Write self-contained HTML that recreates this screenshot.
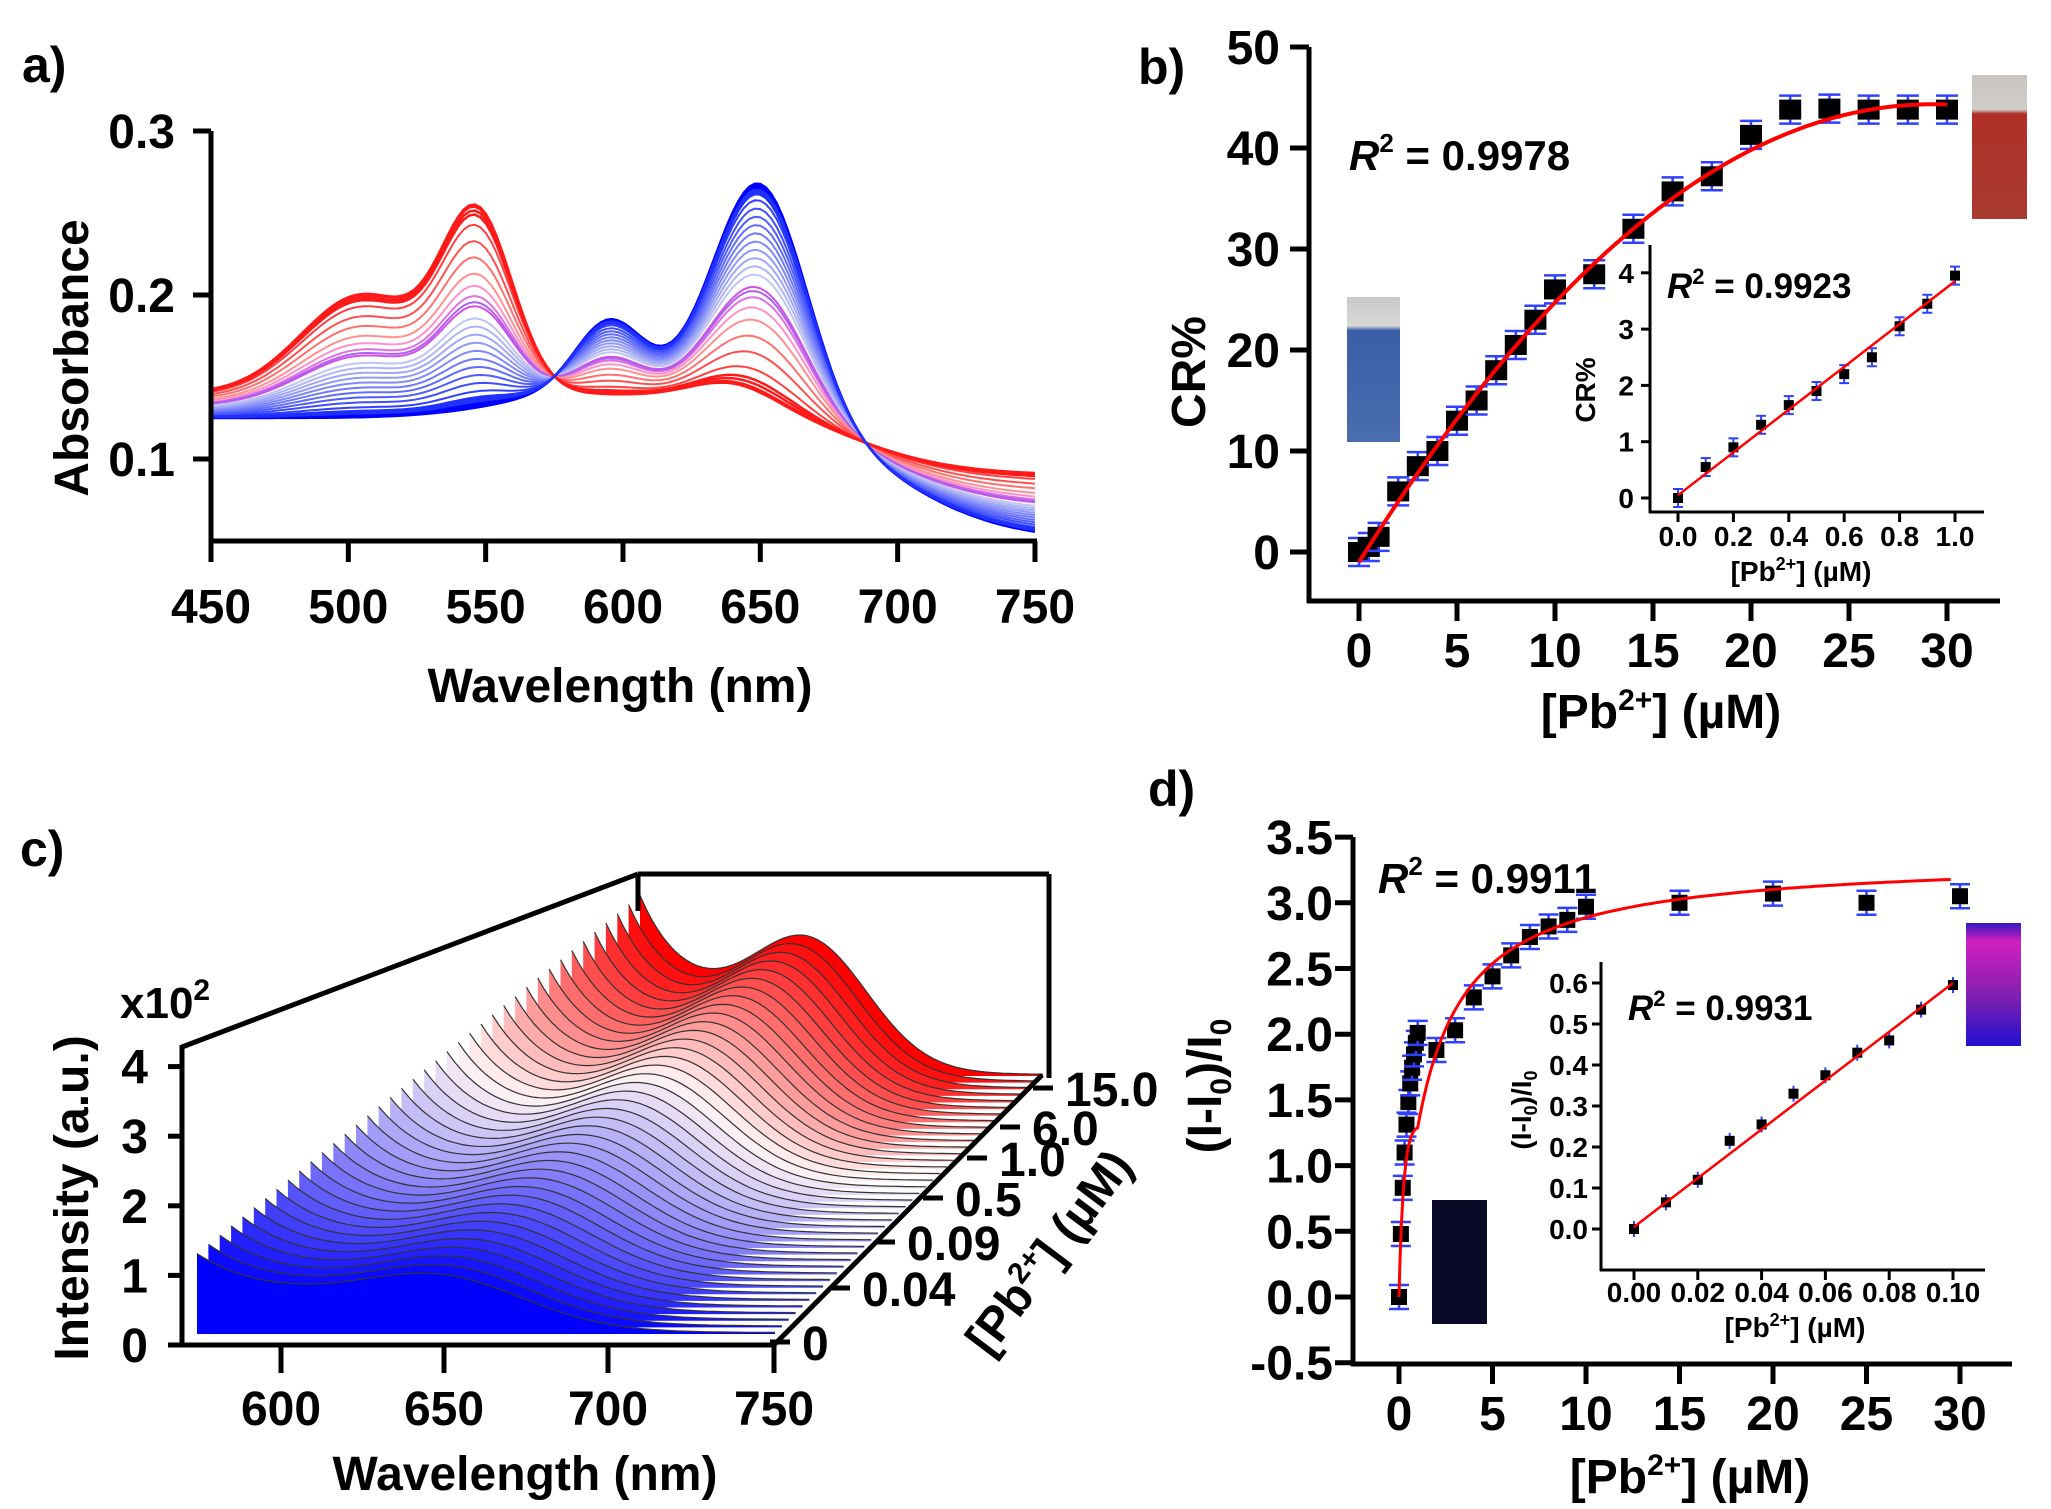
<!DOCTYPE html>
<html><head><meta charset="utf-8"><style>
html,body{margin:0;padding:0;background:#fff;}
svg{display:block;}
text{font-family:"Liberation Sans",Arial,sans-serif;font-weight:bold;fill:#000;}
</style></head><body>
<svg id="s" xmlns="http://www.w3.org/2000/svg" width="2051" height="1509" viewBox="0 0 2051 1509">
<defs>
<clipPath id="ca"><rect x="213" y="60" width="822" height="479"/></clipPath>
<linearGradient id="vb" x1="0" y1="0" x2="0" y2="1"><stop offset="0" stop-color="#c8c8c8"/><stop offset="0.2" stop-color="#d8d8d8"/><stop offset="0.23" stop-color="#3a5fa8"/><stop offset="1" stop-color="#4a6db0"/></linearGradient>
<linearGradient id="vr" x1="0" y1="0" x2="0" y2="1"><stop offset="0" stop-color="#c8c4c0"/><stop offset="0.24" stop-color="#d0ccc8"/><stop offset="0.27" stop-color="#b03028"/><stop offset="1" stop-color="#a83a30"/></linearGradient>
<linearGradient id="vp" x1="0" y1="0" x2="0" y2="1"><stop offset="0" stop-color="#3018c0"/><stop offset="0.15" stop-color="#d020c0"/><stop offset="0.6" stop-color="#8020b0"/><stop offset="1" stop-color="#2010d0"/></linearGradient>
</defs>
<g id="g"></g>
</svg>
<script>
var out=[];
function T(x,y,s,sz,anc,extra){out.push('<text x="'+x+'" y="'+y+'" font-size="'+sz+'" text-anchor="'+(anc||'start')+'" '+(extra||'')+'>'+s+'</text>');}
function L(x1,y1,x2,y2,w,c){out.push('<line x1="'+x1+'" y1="'+y1+'" x2="'+x2+'" y2="'+y2+'" stroke="'+(c||'#000')+'" stroke-width="'+(w||5)+'"/>');}
function P(d,st){out.push('<path d="'+d+'" '+st+'/>');}
function G(x,m,s){return Math.exp(-Math.pow((x-m)/s,2)/2);}
function sig(x){return 1/(1+Math.exp(-x));}
function hex(c){return [parseInt(c.substr(1,2),16),parseInt(c.substr(3,2),16),parseInt(c.substr(5,2),16)];}
function mix(a,b,t){a=hex(a);b=hex(b);return 'rgb('+[0,1,2].map(function(i){return Math.round(a[i]+(b[i]-a[i])*t);}).join(',')+')';}

/* ---------- Panel a ---------- */
T(22,82,'a)',50);
function ax(l){return 211+(l-450)*824/300;}
function ay(a){return 541-(a-0.05)*1640;}
function B(l){return 0.125+0.02*Math.exp(-Math.pow((l-600)/50,2))-0.075*sig((l-700)/20)+0.04*G(l,595,12)+0.141*G(l,650,17);}
function R(l){return 0.14-0.05*sig((l-680)/20)+0.06*G(l,505,22)+0.105*G(l,547,13)+0.012*G(l,640,15);}
function curve(t,col,w){var d='';for(var l=450;l<=750;l+=2){var v=(1-t)*B(l)+t*R(l);d+=(l==450?'M':'L')+ax(l).toFixed(1)+','+ay(v).toFixed(1);}
 out.push('<path d="'+d+'" fill="none" stroke="'+col+'" stroke-width="'+w+'" clip-path="url(#ca)"/>');}
var ts=[0.08,0.12,0.16,0.2,0.24,0.28,0.32,0.36,0.4,0.44];
ts.forEach(function(t,i){curve(t,mix('#3040ff','#c0c4f4',i/(ts.length-1)),2);});
curve(0.5,'#d050e8',2);curve(0.55,'#e070e0',2);curve(0.6,'#ff90c8',2);curve(0.52,'#b060f0',2);
curve(0.66,'#ff9090',2);curve(0.74,'#ff7070',2);curve(0.82,'#ff5050',2);curve(0.9,'#ff4040',2);
[0.95,0.97,0.99,1].forEach(function(t){curve(t,'#ff1a1a',2.5);});
[0,0.01,0.02,0.03,0.04,0.05].forEach(function(t,i){curve(t,i<3?'#0000ff':'#2030ff',2.5);});
L(211,131,211,543);L(209,541,1037,541);
[0.3,0.2,0.1].forEach(function(v){L(193,ay(v),211,ay(v));T(175,ay(v)+17,v.toFixed(1),48,'end');});
for(var k=0;k<=6;k++){var x=211+k*137.33;L(x,541,x,562);T(x,623,450+50*k,48,'middle');}
T(620,702,'Wavelength (nm)',48,'middle');
T(88,358,'Absorbance',48,'middle','transform="rotate(-90 88 358)"');

/* ---------- Panel b ---------- */
T(1138,84,'b)',50);
function bx(v){return 1359+v*19.6;}
function by(v){return 552-v*10.1;}
out.push('<rect x="1347" y="297" width="53" height="145" fill="url(#vb)"/>');
out.push('<rect x="1972" y="75" width="55" height="144" fill="url(#vr)"/>');
var bd=[[0,0],[0.5,0.5],[1,1.5],[2,6],[3,8.5],[4,10],[5,13],[6,15],[7,18],[8,20.5],[9,23],[10,26],[12,27.5],[14,32],[16,35.7],[18,37.2],[20,41.3],[22,43.8],[24,43.9],[26,43.8],[28,43.8],[30,43.8]];
bd.forEach(function(p){var x=bx(p[0]),y=by(p[1]);L(x,y-14,x,y+14,2.5,'#3040ff');L(x-11,y-14,x+11,y-14,2.5,'#3040ff');L(x-11,y+14,x+11,y+14,2.5,'#3040ff');out.push('<rect x="'+(x-11)+'" y="'+(y-10)+'" width="22" height="20" fill="#000"/>');});
var d='';for(var v=0;v<=30;v+=0.25){var y=-1+3.1*v-0.053*v*v;d+=(v==0?'M':'L')+bx(v).toFixed(1)+','+by(y).toFixed(1);}
P(d,'fill="none" stroke="#ff0000" stroke-width="4"');
L(1309,47,1309,603);L(1307,601,2000,601);
for(var k=0;k<=5;k++){var y=by(k*10);L(1290,y,1309,y);T(1280,y+17,k*10,48,'end');}
for(var k=0;k<=6;k++){var x=bx(k*5);L(x,601,x,621);T(x,667,k*5,48,'middle');}
T(1349,170,'<tspan font-style="italic">R</tspan><tspan font-size="26" dy="-18">2</tspan><tspan dy="18"> = 0.9978</tspan>',42);
T(1661,728,'[Pb<tspan font-size="30" dy="-18">2+</tspan><tspan dy="18">] (µM)</tspan>',48,'middle');
T(1205,372,'CR%',48,'middle','transform="rotate(-90 1205 372)"');
/* inset b */
function ix(v){return 1678+v*277;}function iy(v){return 498-v*56.3;}
[[0,0],[0.1,0.55],[0.2,0.9],[0.3,1.3],[0.4,1.65],[0.5,1.9],[0.6,2.2],[0.7,2.5],[0.8,3.05],[0.9,3.45],[1,3.95]].forEach(function(p){var x=ix(p[0]),y=iy(p[1]);L(x,y-9,x,y+9,2,'#3040ff');L(x-5,y-9,x+5,y-9,2,'#3040ff');L(x-5,y+9,x+5,y+9,2,'#3040ff');out.push('<rect x="'+(x-5)+'" y="'+(y-5)+'" width="10" height="10" fill="#000"/>');});
L(ix(0),iy(0.05),ix(1),iy(3.85),2.5,'#ff0000');
L(1650,245,1650,513,3);L(1649,512,1984,512,3);
for(var k=0;k<=4;k++){var y=iy(k);L(1641,y,1650,y,3);T(1634,y+10,k,28,'end');}
for(var k=0;k<=5;k++){var x=ix(k*0.2);L(x,512,x,522,3);T(x,546,(k*0.2).toFixed(1),28,'middle');}
T(1801,581,'[Pb<tspan font-size="18" dy="-11">2+</tspan><tspan dy="11">] (µM)</tspan>',28,'middle');
T(1595,390,'CR%',28,'middle','transform="rotate(-90 1595 390)"');
T(1667,298,'<tspan font-style="italic">R</tspan><tspan font-size="22" dy="-14">2</tspan><tspan dy="14"> = 0.9923</tspan>',35);

/* ---------- Panel c ---------- */
T(20,866,'c)',50);
var N=40;
function lerp(a,b,t){return a+(b-a)*t;}
for(var i=N-1;i>=0;i--){var t=i/(N-1);
 var lx=lerp(197,640,t),rx=lerp(775,1043,t),by0=lerp(1334,1076,t);
 var A=lerp(0.7,1.7,t),H=lerp(0.6,1.5,t),Bb=lerp(0.45,0.9,t);
 var pts=[];for(var l=575;l<=750;l+=2.5){var f=A*Math.exp(-(l-575)/20)+H*Math.exp(-Math.pow((l-650)/35,2))+Bb*Math.exp(-Math.pow((l-590)/70,2))+0.02;
  pts.push([lerp(lx,rx,(l-575)/175),by0-f*69.6]);}
 var col=t<0.6?mix('#0000ff','#fff4f4',t/0.6):mix('#fff4f4','#ff0000',(t-0.6)/0.4);
 var dd='M'+lx+','+by0;pts.forEach(function(p){dd+='L'+p[0].toFixed(1)+','+p[1].toFixed(1);});dd+='L'+rx+','+by0+'Z';
 P(dd,'fill="'+col+'" stroke="none"');
 var dl='M'+pts.map(function(p){return p[0].toFixed(1)+','+p[1].toFixed(1);}).join('L');
 P(dl,'fill="none" stroke="#333" stroke-width="1.2"');
}
L(182,1047,638,874);L(638,874,1049,874);L(1049,874,1049,1078);L(638,874,638,911);
L(182,1045,182,1347);L(180,1345,776,1345);L(772,1347,1042,1075);
for(var k=0;k<=4;k++){var y=1345-k*69.6;L(168,y,182,y);T(148,y+17,k,48,'end');}
[[281,600],[444,650],[608,700],[774,750]].forEach(function(p){L(p[0],1345,p[0],1373);T(p[0],1425,p[1],48,'middle');});
T(120,1018,'x10<tspan font-size="30" dy="-18">2</tspan>',44);
T(525,1490,'Wavelength (nm)',48,'middle');
T(88,1198,'Intensity (a.u.)',48,'middle','transform="rotate(-90 88 1198)"');
[[770,1342,'0'],[830,1288,'0.04'],[875,1242,'0.09'],[923,1198,'0.5'],[967,1158,'1.0'],[1000,1127,'6.0'],[1033,1088,'15.0']].forEach(function(p){L(p[0],p[1],p[0]+20,p[1],5);T(p[0]+32,p[1]+18,p[2],48);});
T(1062,1262,'[Pb<tspan font-size="30" dy="-18">2+</tspan><tspan dy="18">] (µM)</tspan>',48,'middle','transform="rotate(-53 1062 1262)"');

/* ---------- Panel d ---------- */
T(1148,806,'d)',50);
function dx(v){return 1399+v*18.7;}function dy(v){return 1297-v*131.4;}
out.push('<rect x="1432" y="1200" width="55" height="124" fill="#0a0a28"/>');
out.push('<rect x="1966" y="923" width="55" height="123" fill="url(#vp)"/>');
var dd2=[];for(var v=0;v<=1.0001;v+=0.1){dd2.push([v,3.35*v/(0.55+v)*0.93]);}
dd2=dd2.concat([[2,1.88],[3,2.03],[4,2.28],[5,2.44],[6,2.6],[7,2.74],[8,2.82],[9,2.87],[10,2.97],[15,3.0],[20,3.07],[25,3.0],[30,3.05]]);
dd2.forEach(function(p){var x=dx(p[0]),y=dy(p[1]);L(x,y-12,x,y+12,2.5,'#3040ff');L(x-10,y-12,x+10,y-12,2.5,'#3040ff');L(x-10,y+12,x+10,y+12,2.5,'#3040ff');out.push('<rect x="'+(x-8)+'" y="'+(y-8)+'" width="16" height="16" fill="#000"/>');});
var d3='';for(var v=0;v<=29.5;v+=(v<2?0.02:0.25)){var y=3.35*v/(1.6+v);if(v<1)y=3.35*v/(0.55+v)*0.93*(1-v)+3.35*v/(1.6+v)*v;d3+=(v==0?'M':'L')+dx(v).toFixed(1)+','+dy(y).toFixed(1);}
P(d3,'fill="none" stroke="#ff0000" stroke-width="3"');
L(1353,837,1353,1366);L(1351,1364,2012,1364);
for(var k=-1;k<=7;k++){var v=k*0.5,y=dy(v);L(1335,y,1353,y);T(1333,y+17,v.toFixed(1),48,'end');}
for(var k=0;k<=6;k++){var x=dx(k*5);L(x,1364,x,1384);T(x,1430,k*5,48,'middle');}
T(1690,1493,'[Pb<tspan font-size="30" dy="-18">2+</tspan><tspan dy="18">] (µM)</tspan>',48,'middle');
T(1221,1086,'(I-I<tspan font-size="30" dy="10">0</tspan><tspan dy="-10">)/I</tspan><tspan font-size="30" dy="10">0</tspan>',48,'middle','transform="rotate(-90 1221 1086)"');
T(1378,893,'<tspan font-style="italic">R</tspan><tspan font-size="26" dy="-18">2</tspan><tspan dy="18"> = 0.9911</tspan>',42);
/* inset d */
function jx(v){return 1634+v*3190;}function jy(v){return 1229-v*410;}
[[0,0],[0.01,0.065],[0.02,0.12],[0.03,0.215],[0.04,0.255],[0.05,0.33],[0.06,0.375],[0.07,0.43],[0.08,0.46],[0.09,0.535],[0.1,0.595]].forEach(function(p){var x=jx(p[0]),y=jy(p[1]);L(x,y-8,x,y+8,2,'#3040ff');out.push('<rect x="'+(x-5)+'" y="'+(y-5)+'" width="10" height="10" fill="#000"/>');});
L(jx(0),jy(0.005),jx(0.1),jy(0.6),2.5,'#ff0000');
L(1601,962,1601,1271,3);L(1600,1270,1985,1270,3);
for(var k=0;k<=6;k++){var y=jy(k/10);L(1592,y,1601,y,3);T(1588,y+10,(k/10).toFixed(1),28,'end');}
for(var k=0;k<=5;k++){var x=jx(k*0.02);L(x,1270,x,1280,3);T(x,1302,(k*0.02).toFixed(2),28,'middle');}
T(1795,1337,'[Pb<tspan font-size="18" dy="-11">2+</tspan><tspan dy="11">] (µM)</tspan>',28,'middle');
T(1531,1110,'(I-I<tspan font-size="18" dy="6">0</tspan><tspan dy="-6">)/I</tspan><tspan font-size="18" dy="6">0</tspan>',28,'middle','transform="rotate(-90 1531 1110)"');
T(1628,1020,'<tspan font-style="italic">R</tspan><tspan font-size="22" dy="-14">2</tspan><tspan dy="14"> = 0.9931</tspan>',35);

document.getElementById('g').innerHTML=out.join('');
</script>
</body></html>
